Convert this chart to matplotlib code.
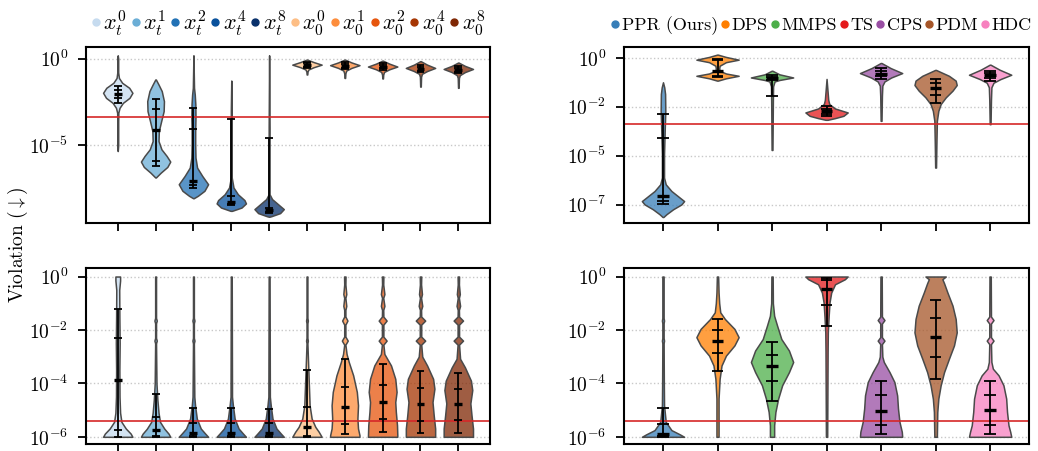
import numpy as np
import matplotlib
matplotlib.use("Agg")
import matplotlib.pyplot as plt
from matplotlib.colors import to_rgba
from matplotlib.lines import Line2D
from matplotlib.ticker import NullLocator

plt.rcParams.update({
    "font.family": "serif",
    "font.serif": ["cmr10"],
    "mathtext.fontset": "cm",
    "axes.formatter.use_mathtext": True,
    "axes.unicode_minus": False,
})

# ---------------- data: (log10 violation, relative density) outlines ----------------
# step ablation (left column)
step_labels = [r"$x_t^0$", r"$x_t^1$", r"$x_t^2$", r"$x_t^4$", r"$x_t^8$",
               r"$x_0^0$", r"$x_0^1$", r"$x_0^2$", r"$x_0^4$", r"$x_0^8$"]
step_colors = ["#c6dbef", "#6baed6", "#2171b5", "#08519c", "#08306b",
               "#fdbe85", "#fd8d3c", "#e6550d", "#a63603", "#7f2704"]

# methods (right column)
method_labels = ["PPR (Ours)", "DPS", "MMPS", "TS", "CPS", "PDM", "HDC"]
method_colors = ["#377eb8", "#ff7f00", "#4daf4a", "#e41a1c", "#984ea3", "#a65628", "#f781bf"]

# top-left
tl_shapes = [
    [(0.19, 0.0), (0.0, 0.03), (-0.8, 0.03), (-1.12, 0.08), (-1.4, 0.3), (-1.69, 0.78), (-1.98, 1.0),
     (-2.27, 0.8), (-2.56, 0.35), (-2.85, 0.12), (-3.13, 0.04), (-3.6, 0.03), (-5.0, 0.03), (-5.35, 0.0)],
    [(-1.21, 0.02), (-1.5, 0.2), (-1.88, 0.42), (-2.46, 0.57), (-3.04, 0.55), (-3.62, 0.38), (-4.19, 0.22),
     (-4.77, 0.2), (-5.25, 0.4), (-5.63, 0.75), (-5.96, 1.0), (-6.27, 0.8), (-6.6, 0.35), (-6.88, 0.02)],
    [(0.19, 0.0), (-1.69, 0.04), (-2.08, 0.09), (-2.65, 0.13), (-3.42, 0.14), (-4.19, 0.12), (-4.96, 0.12),
     (-5.73, 0.14), (-6.31, 0.25), (-6.79, 0.6), (-7.27, 1.0), (-7.65, 0.75), (-7.94, 0.3), (-8.08, 0.02)],
    [(-1.27, 0.0), (-3.0, 0.03), (-6.88, 0.03), (-7.46, 0.15), (-7.85, 0.45), (-8.19, 0.9), (-8.38, 1.0),
     (-8.62, 0.7), (-8.81, 0.05)],
    [(0.19, 0.0), (-4.0, 0.03), (-7.85, 0.03), (-8.13, 0.2), (-8.42, 0.6), (-8.71, 1.0), (-8.94, 0.75),
     (-9.12, 0.15), (-9.15, 0.02)],
    [(-0.06, 0.02), (-0.2, 0.45), (-0.35, 1.0), (-0.5, 0.45), (-0.63, 0.1), (-0.75, 0.04), (-0.92, 0.02)],
    [(-0.06, 0.02), (-0.22, 0.45), (-0.38, 1.0), (-0.54, 0.45), (-0.69, 0.1), (-0.85, 0.04), (-1.12, 0.02)],
    [(-0.12, 0.02), (-0.29, 0.45), (-0.46, 1.0), (-0.62, 0.45), (-0.77, 0.1), (-0.92, 0.04), (-1.15, 0.02)],
    [(-0.15, 0.02), (-0.35, 0.45), (-0.54, 1.0), (-0.72, 0.45), (-0.88, 0.1), (-1.05, 0.04), (-1.62, 0.02)],
    [(-0.23, 0.02), (-0.42, 0.45), (-0.6, 1.0), (-0.78, 0.45), (-0.96, 0.1), (-1.12, 0.04), (-1.69, 0.02)],
]
# percentiles 5/25/50/75/95 (log10)
tl_pct = [
    [-2.58, -2.29, -2.04, -1.81, -1.56],
    [-6.19, -5.95, -4.12, -2.93, -2.32],
    [-7.5, -7.3, -7.08, -4.08, -2.87],
    [-8.5, -8.4, -8.3, -7.95, -3.5],
    [-8.95, -8.85, -8.75, -8.62, -4.57],
    [-0.55, -0.47, -0.37, -0.27, -0.17],
    [-0.62, -0.52, -0.42, -0.32, -0.2],
    [-0.67, -0.57, -0.47, -0.37, -0.27],
    [-0.79, -0.69, -0.58, -0.47, -0.36],
    [-0.86, -0.76, -0.65, -0.54, -0.43],
]

# top-right
tr_shapes = [
    [(-1.16, 0.0), (-1.4, 0.06), (-1.72, 0.1), (-2.52, 0.11), (-3.48, 0.08), (-4.59, 0.05), (-5.71, 0.05),
     (-6.03, 0.13), (-6.35, 0.4), (-6.67, 0.8), (-6.83, 1.0), (-6.99, 0.87), (-7.22, 0.48), (-7.46, 0.16),
     (-7.59, 0.02)],
    [(0.16, 0.02), (0.05, 0.4), (-0.08, 1.0), (-0.2, 0.4), (-0.37, 0.1), (-0.5, 0.08), (-0.61, 0.1),
     (-0.74, 0.4), (-0.85, 1.0), (-0.97, 0.4), (-1.08, 0.02)],
    [(-0.61, 0.02), (-0.78, 0.35), (-0.93, 1.0), (-1.05, 0.35), (-1.12, 0.12), (-1.35, 0.05), (-2.0, 0.04),
     (-4.39, 0.02)],
    [(-1.0, 0.0), (-1.5, 0.04), (-2.0, 0.08), (-2.2, 0.13), (-2.41, 0.4), (-2.6, 1.0), (-2.76, 0.8),
     (-2.87, 0.4), (-2.95, 0.05)],
    [(-0.24, 0.02), (-0.48, 0.45), (-0.72, 1.0), (-0.93, 0.48), (-1.12, 0.16), (-1.32, 0.06), (-1.8, 0.04),
     (-3.0, 0.02)],
    [(-0.57, 0.02), (-0.85, 0.63), (-1.08, 0.95), (-1.29, 1.0), (-1.56, 0.8), (-1.88, 0.48), (-2.2, 0.24),
     (-2.52, 0.13), (-3.0, 0.06), (-4.0, 0.04), (-5.23, 0.02)],
    [(-0.32, 0.02), (-0.56, 0.45), (-0.8, 1.0), (-1.01, 0.48), (-1.18, 0.16), (-1.4, 0.06), (-2.0, 0.04),
     (-3.16, 0.02)],
]
tr_pct = [
    [-6.97, -6.82, -6.6, -3.8, -2.67],
    [-0.93, -0.85, -0.6, -0.11, -0.07],
    [-1.82, -1.03, -0.97, -0.9, -0.82],
    [-2.78, -2.65, -2.53, -2.42, -2.27],
    [-1.02, -0.87, -0.75, -0.62, -0.5],
    [-2.17, -1.77, -1.42, -1.21, -1.02],
    [-1.1, -0.95, -0.83, -0.72, -0.6],
]

# bottom-left
bl_shapes = [
    [(0.0, 0.16), (-0.15, 0.16), (-0.5, 0.1), (-1.5, 0.11), (-2.5, 0.13), (-3.5, 0.11), (-4.5, 0.12),
     (-5.1, 0.16), (-5.44, 0.25), (-5.69, 0.55), (-5.88, 0.88), (-6.0, 1.0)],
    [(0.0, 0.03), (-1.55, 0.03), (-1.65, 0.08), (-1.75, 0.03), (-2.3, 0.03), (-2.4, 0.08), (-2.5, 0.03),
     (-4.0, 0.06), (-4.6, 0.12), (-5.1, 0.2), (-5.44, 0.3), (-5.7, 0.6), (-5.88, 0.88), (-6.0, 1.0)],
    [(0.0, 0.03), (-1.55, 0.03), (-1.65, 0.07), (-1.75, 0.03), (-2.3, 0.03), (-2.4, 0.07), (-2.5, 0.03),
     (-4.5, 0.06), (-4.82, 0.11), (-5.32, 0.23), (-5.69, 0.5), (-5.88, 0.8), (-6.0, 1.0)],
    [(0.0, 0.03), (-4.5, 0.05), (-4.82, 0.11), (-5.32, 0.23), (-5.69, 0.5), (-5.88, 0.8), (-6.0, 1.0)],
    [(0.0, 0.03), (-4.5, 0.05), (-4.82, 0.11), (-5.32, 0.23), (-5.69, 0.5), (-5.88, 0.8), (-6.0, 1.0)],
    [(0.0, 0.03), (-1.55, 0.03), (-1.65, 0.06), (-1.75, 0.03), (-2.3, 0.03), (-2.4, 0.06), (-2.5, 0.03),
     (-3.3, 0.08), (-4.2, 0.14), (-4.82, 0.18), (-5.32, 0.32), (-5.63, 0.57), (-5.81, 0.8), (-6.0, 1.0)],
    [(0.0, 0.05), (-0.3, 0.04), (-0.66, 0.1), (-0.8, 0.04), (-1.1, 0.1), (-1.25, 0.04), (-1.5, 0.04),
     (-1.65, 0.18), (-1.8, 0.04), (-2.25, 0.04), (-2.4, 0.2), (-2.55, 0.04), (-2.9, 0.12), (-3.2, 0.27),
     (-3.7, 0.57), (-4.32, 0.82), (-4.82, 0.9), (-5.32, 0.86), (-5.69, 0.9), (-5.94, 1.0), (-6.0, 1.0)],
    [(0.0, 0.05), (-0.3, 0.04), (-0.66, 0.12), (-0.8, 0.04), (-1.1, 0.12), (-1.25, 0.04), (-1.5, 0.05),
     (-1.65, 0.27), (-1.8, 0.05), (-2.25, 0.05), (-2.4, 0.27), (-2.55, 0.05), (-2.9, 0.12), (-3.33, 0.57),
     (-3.83, 0.86), (-4.32, 0.95), (-4.7, 0.86), (-5.07, 0.9), (-5.57, 0.98), (-5.94, 1.0), (-6.0, 1.0)],
    [(0.0, 0.05), (-0.3, 0.04), (-0.66, 0.1), (-0.8, 0.04), (-1.1, 0.12), (-1.25, 0.04), (-1.5, 0.05),
     (-1.65, 0.32), (-1.8, 0.05), (-2.25, 0.05), (-2.4, 0.32), (-2.55, 0.05), (-3.0, 0.12), (-3.33, 0.45),
     (-3.83, 0.86), (-4.2, 0.95), (-4.7, 0.82), (-5.19, 0.9), (-5.69, 1.0), (-6.0, 1.0)],
    [(0.0, 0.05), (-0.3, 0.04), (-0.66, 0.1), (-0.8, 0.04), (-1.1, 0.12), (-1.25, 0.04), (-1.5, 0.05),
     (-1.65, 0.32), (-1.8, 0.05), (-2.25, 0.05), (-2.4, 0.32), (-2.55, 0.05), (-3.08, 0.12), (-3.4, 0.45),
     (-3.9, 0.86), (-4.25, 0.95), (-4.75, 0.82), (-5.2, 0.9), (-5.69, 1.0), (-6.0, 1.0)],
]
bl_pct = [
    [-6.0, -5.74, -3.89, -2.31, -1.2],
    [-6.0, -5.98, -5.76, -5.25, -4.41],
    [-6.0, -5.97, -5.87, -5.48, -4.91],
    [-6.0, -5.97, -5.87, -5.48, -4.92],
    [-6.0, -5.97, -5.86, -5.47, -4.95],
    [-6.0, -5.98, -5.64, -4.88, -3.5],
    [-5.9, -5.53, -4.89, -4.12, -3.09],
    [-5.81, -5.33, -4.68, -4.07, -3.29],
    [-5.84, -5.4, -4.79, -4.19, -3.54],
    [-5.84, -5.38, -4.78, -4.2, -3.63],
]

# bottom-right
br_shapes = [
    [(0.0, 0.03), (-1.55, 0.03), (-1.65, 0.05), (-1.75, 0.03), (-2.3, 0.03), (-2.4, 0.05), (-2.5, 0.03),
     (-4.0, 0.04), (-4.82, 0.05), (-5.44, 0.13), (-5.75, 0.4), (-5.91, 0.8), (-6.0, 1.0)],
    [(0.0, 0.03), (-0.6, 0.05), (-1.0, 0.08), (-1.34, 0.13), (-1.59, 0.35), (-1.96, 0.8), (-2.27, 1.0),
     (-2.58, 0.8), (-2.96, 0.4), (-3.33, 0.19), (-3.83, 0.1), (-4.57, 0.05), (-6.0, 0.05)],
    [(0.0, 0.03), (-1.0, 0.04), (-1.47, 0.1), (-1.84, 0.24), (-2.34, 0.44), (-2.77, 0.8), (-3.2, 1.0),
     (-3.58, 0.8), (-4.07, 0.48), (-4.57, 0.29), (-5.07, 0.16), (-5.57, 0.1), (-6.0, 0.1)],
    [(0.0, 1.0), (-0.1, 0.87), (-0.29, 0.4), (-0.6, 0.22), (-0.97, 0.14), (-1.47, 0.1), (-2.09, 0.06),
     (-2.8, 0.05), (-6.0, 0.03)],
    [(0.0, 0.03), (-1.5, 0.04), (-1.63, 0.16), (-1.76, 0.04), (-2.27, 0.04), (-2.4, 0.16), (-2.53, 0.04),
     (-3.0, 0.06), (-3.2, 0.13), (-3.58, 0.4), (-3.95, 0.63), (-4.45, 0.76), (-4.94, 0.8), (-5.44, 0.87),
     (-5.81, 0.98), (-6.0, 1.0)],
    [(0.0, 0.48), (-0.1, 0.32), (-0.25, 0.4), (-0.6, 0.56), (-1.09, 0.8), (-1.59, 0.95), (-2.09, 1.0),
     (-2.58, 0.87), (-3.08, 0.63), (-3.58, 0.4), (-4.07, 0.24), (-4.57, 0.13), (-5.07, 0.08), (-6.0, 0.06)],
    [(0.0, 0.03), (-1.5, 0.04), (-1.63, 0.16), (-1.76, 0.04), (-2.27, 0.04), (-2.4, 0.16), (-2.53, 0.04),
     (-3.2, 0.06), (-3.45, 0.13), (-3.7, 0.4), (-4.07, 0.63), (-4.57, 0.76), (-5.07, 0.8), (-5.57, 0.87),
     (-5.81, 0.95), (-6.0, 1.0)],
]
br_pct = [
    [-6.0, -5.96, -5.91, -5.52, -4.92],
    [-3.55, -2.87, -2.41, -2.02, -1.59],
    [-4.66, -3.9, -3.35, -2.93, -2.46],
    [-1.84, -1.05, -0.47, -0.13, -0.04],
    [-5.9, -5.56, -5.02, -4.44, -3.92],
    [-3.85, -3.02, -2.26, -1.56, -0.89],
    [-5.9, -5.54, -4.99, -4.45, -3.91],
]

# feasibility thresholds (red lines)
thresholds = {"tl": 4e-4, "tr": 7e-4, "bl": 4e-6, "br": 4e-6}


def draw_panel(ax, shapes, pcts, colors, thresh):
    stats = []
    for pts, q in zip(shapes, pcts):
        lv = np.array([p[0] for p in pts])
        dv = np.array([p[1] for p in pts])
        y = 10.0 ** lv
        stats.append(dict(coords=y, vals=dv, mean=10 ** q[2], median=10 ** q[2],
                          min=y.min(), max=y.max()))
    pos = np.arange(len(shapes))
    parts = ax.violin(stats, positions=pos, widths=0.775,
                      showmeans=False, showextrema=False, showmedians=False)
    for body, c in zip(parts["bodies"], colors):
        body.set_alpha(None)
        body.set_facecolor(to_rgba(c, 0.75))
        body.set_edgecolor("#4a4a4a")
        body.set_linewidth(1.1)
        body.set_zorder(2)

    ax.axhline(thresh, color="#d62728", lw=1.2, zorder=2.5)

    q = 10.0 ** np.array(pcts)
    cap = 0.105
    ax.vlines(pos, q[:, 0], q[:, 4], color="k", lw=1.3, zorder=3)
    for j in (0, 1, 3, 4):
        ax.hlines(q[:, j], pos - cap, pos + cap, color="k", lw=1.3, zorder=3)
    ax.hlines(q[:, 2], pos - cap, pos + cap, color="k", lw=2.4, zorder=3)

    ax.set_yscale("log")
    ax.yaxis.set_minor_locator(NullLocator())
    ax.set_xticks(pos)
    ax.set_xticklabels([])
    ax.grid(axis="y", which="major", linestyle=":", color="#c8c8c8", lw=1.0, zorder=0)
    ax.set_axisbelow(True)
    ax.tick_params(axis="both", which="major", length=5.5, width=1.3, labelsize=14, pad=7)
    for s in ax.spines.values():
        s.set_linewidth(1.5)


fig = plt.figure(figsize=(10.38, 4.51), dpi=100)
ax_tl = fig.add_axes([0.0826, 0.5049, 0.3898, 0.3916])
ax_tr = fig.add_axes([0.6009, 0.5049, 0.3908, 0.3916])
ax_bl = fig.add_axes([0.0826, 0.0155, 0.3898, 0.3909])
ax_br = fig.add_axes([0.6009, 0.0155, 0.3908, 0.3909])

draw_panel(ax_tl, tl_shapes, tl_pct, step_colors, thresholds["tl"])
draw_panel(ax_tr, tr_shapes, tr_pct, method_colors, thresholds["tr"])
draw_panel(ax_bl, bl_shapes, bl_pct, step_colors, thresholds["bl"])
draw_panel(ax_br, br_shapes, br_pct, method_colors, thresholds["br"])

for ax in (ax_tl, ax_bl):
    ax.set_xlim(-0.846, 9.846)
for ax in (ax_tr, ax_br):
    ax.set_xlim(-0.72, 6.72)

ax_tl.set_ylim(10 ** -9.53, 10 ** 0.69)
ax_tl.set_yticks([1.0, 1e-5])
ax_tr.set_ylim(10 ** -7.89, 10 ** 0.54)
ax_tr.set_yticks(10.0 ** np.linspace(0, -7, 4))
ax_tr.set_yticklabels([r"$10^{0}$", r"$10^{-2}$", r"$10^{-5}$", r"$10^{-7}$"])
for ax in (ax_bl, ax_br):
    ax.set_ylim(10 ** -6.27, 10 ** 0.33)
    ax.set_yticks([1.0, 1e-2, 1e-4, 1e-6])

for ax in (ax_tl, ax_tr, ax_bl, ax_br):
    ax.yaxis.set_minor_locator(NullLocator())

step_handles = [Line2D([], [], marker="o", ls="", color=c, markersize=5) for c in step_colors]
ax_tl.legend(step_handles, step_labels, loc="lower center", bbox_to_anchor=(0.5, 1.0),
             ncol=10, frameon=False, fontsize=16, handlelength=0.45, handletextpad=0.1,
             columnspacing=0.2, borderpad=0.0, borderaxespad=0.4)
method_handles = [Line2D([], [], marker="o", ls="", color=c, markersize=5) for c in method_colors]
ax_tr.legend(method_handles, method_labels, loc="lower right", bbox_to_anchor=(1.006, 1.065),
             ncol=7, frameon=False, fontsize=13, handlelength=0.5, handletextpad=0.1,
             columnspacing=0.15, borderpad=0.0, borderaxespad=0.0)

fig.text(0.017, 1 - 245 / 451, r"Violation ($\downarrow$)", rotation=90,
         ha="center", va="center", fontsize=14)

fig.savefig("out.png", dpi=100)
